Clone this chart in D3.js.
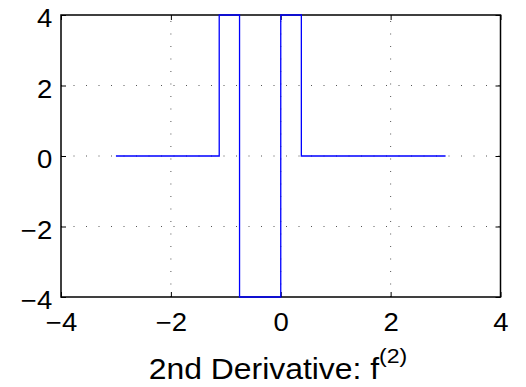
<!DOCTYPE html>
<html>
<head>
<meta charset="utf-8">
<script src="https://cdn.jsdelivr.net/npm/d3@7"></script>
<style>
  html, body { margin: 0; padding: 0; background: #fff; }
  svg { display: block; font-family: "Liberation Sans", Arial, Helvetica, sans-serif; }
</style>
</head>
<body>
<svg id="chart" width="526" height="387"></svg>
<script>
// Piecewise-constant second derivative
const xs = [-3, -1.12, -1.12, -0.75, -0.75, 0, 0, 0.375, 0.375, 3];
const ys = [0, 0, 4, 4, -4, -4, 4, 4, 0, 0];
const xTicks = [-4, -2, 0, 2, 4];
const yTicks = [-4, -2, 0, 2, 4];
const gridTicks = [-2, 0, 2];

const m = { left: 61, right: 500.5, top: 15, bottom: 297 };
const stretch = 1.1;   // slightly widened glyphs

const svg = d3.select("#chart");
const x = d3.scaleLinear().domain([-4, 4]).range([m.left, m.right]);
const y = d3.scaleLinear().domain([-4, 4]).range([m.bottom, m.top]);
const fmt = d => d < 0 ? "\u2212" + Math.abs(d) : String(d);

// dotted grid
const grid = svg.append("g").attr("stroke", "#555").attr("stroke-width", 1)
  .attr("stroke-dasharray", "1,11.5");
gridTicks.forEach(v => {
  grid.append("line").attr("x1", x(v)).attr("x2", x(v))
    .attr("y1", m.bottom).attr("y2", m.top);
  grid.append("line").attr("y1", y(v)).attr("y2", y(v))
    .attr("x1", m.left).attr("x2", m.right);
});

// axes with inward ticks on all four sides
const tickLen = 5;
const axB = d3.axisBottom(x).tickValues(xTicks).tickSizeInner(-tickLen).tickSizeOuter(0)
  .tickPadding(16.5).tickFormat(fmt);
const axT = d3.axisTop(x).tickValues(xTicks).tickSizeInner(-tickLen).tickSizeOuter(0).tickFormat("");
const axL = d3.axisLeft(y).tickValues(yTicks).tickSizeInner(-tickLen).tickSizeOuter(0)
  .tickPadding(8).tickFormat(fmt);
const axR = d3.axisRight(y).tickValues(yTicks).tickSizeInner(-tickLen).tickSizeOuter(0).tickFormat("");

function style(g) {
  g.select(".domain").remove();
  g.selectAll("line").attr("stroke", "#000").attr("stroke-width", 1);
  g.selectAll("text").attr("fill", "#000")
    .attr("font-size", null).attr("font-family", null)
    .style("font-size", "25px")
    .style("font-family", "'Liberation Sans', Arial, sans-serif")
    .attr("transform", `scale(${stretch},1)`);
}
svg.append("g").attr("transform", `translate(0,${m.bottom})`).call(axB).call(style);
svg.append("g").attr("transform", `translate(0,${m.top})`).call(axT).call(style);
svg.append("g").attr("transform", `translate(${m.left},0)`).call(axL).call(style)
  .selectAll("text").attr("dy", "0.46em");
svg.append("g").attr("transform", `translate(${m.right},0)`).call(axR).call(style);

// axes box
svg.append("rect").attr("x", m.left).attr("y", m.top)
  .attr("width", m.right - m.left).attr("height", m.bottom - m.top)
  .attr("fill", "none").attr("stroke", "#000").attr("stroke-width", 1.5);

// the curve, drawn on top of the box
const data = xs.map((d, i) => [d, ys[i]]);
svg.append("path")
  .datum(data)
  .attr("fill", "none")
  .attr("stroke", "#0000ff")
  .attr("stroke-width", 1.3)
  .attr("d", d3.line().x(d => x(d[0])).y(d => y(d[1])));

// x-axis label with superscript
const lab = svg.append("g").attr("transform", `translate(278,378.5) scale(${stretch},1)`)
  .append("text")
  .attr("text-anchor", "middle")
  .style("font-size", "29px").attr("fill", "#000");
lab.append("tspan").text("2nd Derivative: f");
lab.append("tspan").attr("dy", -16).style("font-size", "21px").text("(2)");
</script>
</body>
</html>
